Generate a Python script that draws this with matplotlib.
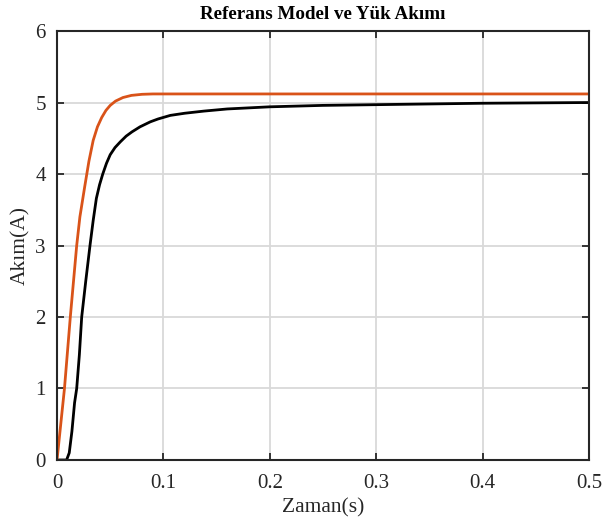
import matplotlib
matplotlib.use("Agg")
import matplotlib.pyplot as plt

plt.rcParams["font.family"] = ["Liberation Serif", "DejaVu Serif"]

# referans model akimi
t_ref = [0, 0.007, 0.0125, 0.0185, 0.0215, 0.026, 0.030, 0.034, 0.038,
         0.042, 0.046, 0.050, 0.055, 0.062, 0.070, 0.080, 0.090, 0.5]
i_ref = [0, 1.0, 2.0, 3.0, 3.4, 3.82, 4.18, 4.47, 4.66,
         4.79, 4.89, 4.96, 5.02, 5.07, 5.10, 5.115, 5.12, 5.12]

# yuk akimi
t_load = [0, 0.009, 0.0115, 0.014, 0.0165, 0.0185, 0.021, 0.0232, 0.027,
          0.031, 0.034, 0.037, 0.040, 0.043, 0.0465, 0.050, 0.0545, 0.0595,
          0.065, 0.0705, 0.078, 0.0877, 0.095, 0.1065, 0.12, 0.138, 0.16,
          0.2, 0.25, 0.3, 0.35, 0.4, 0.45, 0.5]
i_load = [0, 0, 0.1, 0.4, 0.8, 1.0, 1.47, 2.0, 2.5,
          3.0, 3.35, 3.66, 3.85, 4.0, 4.15, 4.27, 4.37, 4.45,
          4.53, 4.59, 4.66, 4.73, 4.77, 4.82, 4.85, 4.88, 4.91,
          4.94, 4.96, 4.97, 4.98, 4.99, 4.995, 5.0]

fig = plt.figure(figsize=(6.04, 5.26), dpi=100)
ax = fig.add_axes([0.0944, 0.1255, 0.8806, 0.8155])
ax.plot(t_load, i_load, color="black", lw=2)
ax.plot(t_ref, i_ref, color="#D95319", lw=2)

ax.set_xlim(0, 0.5)
ax.set_ylim(0, 6)
ax.set_xticks([0, 0.1, 0.2, 0.3, 0.4, 0.5])
ax.set_xticklabels(["0", "0.1", "0.2", "0.3", "0.4", "0.5"])
ax.set_yticks(range(7))
ax.grid(True, color="#d9d9d9", lw=1.3)
ax.tick_params(direction="in", top=True, right=True, labelsize=15,
               length=5, width=1.3, color="#262626", labelcolor="#262626")
ax.tick_params(axis="x", pad=10)
ax.tick_params(axis="y", pad=8)
for s in ax.spines.values():
    s.set_linewidth(1.5)
    s.set_color("#262626")
ax.set_xlabel("Zaman(s)", fontsize=15.5, labelpad=4, color="#262626")
ax.set_ylabel("Akım(A)", fontsize=15.5, labelpad=4, color="#262626")
ax.set_title("Referans Model ve Yük Akımı", fontsize=13.7, fontweight="bold", pad=9)

fig.savefig("out.png", dpi=100)
